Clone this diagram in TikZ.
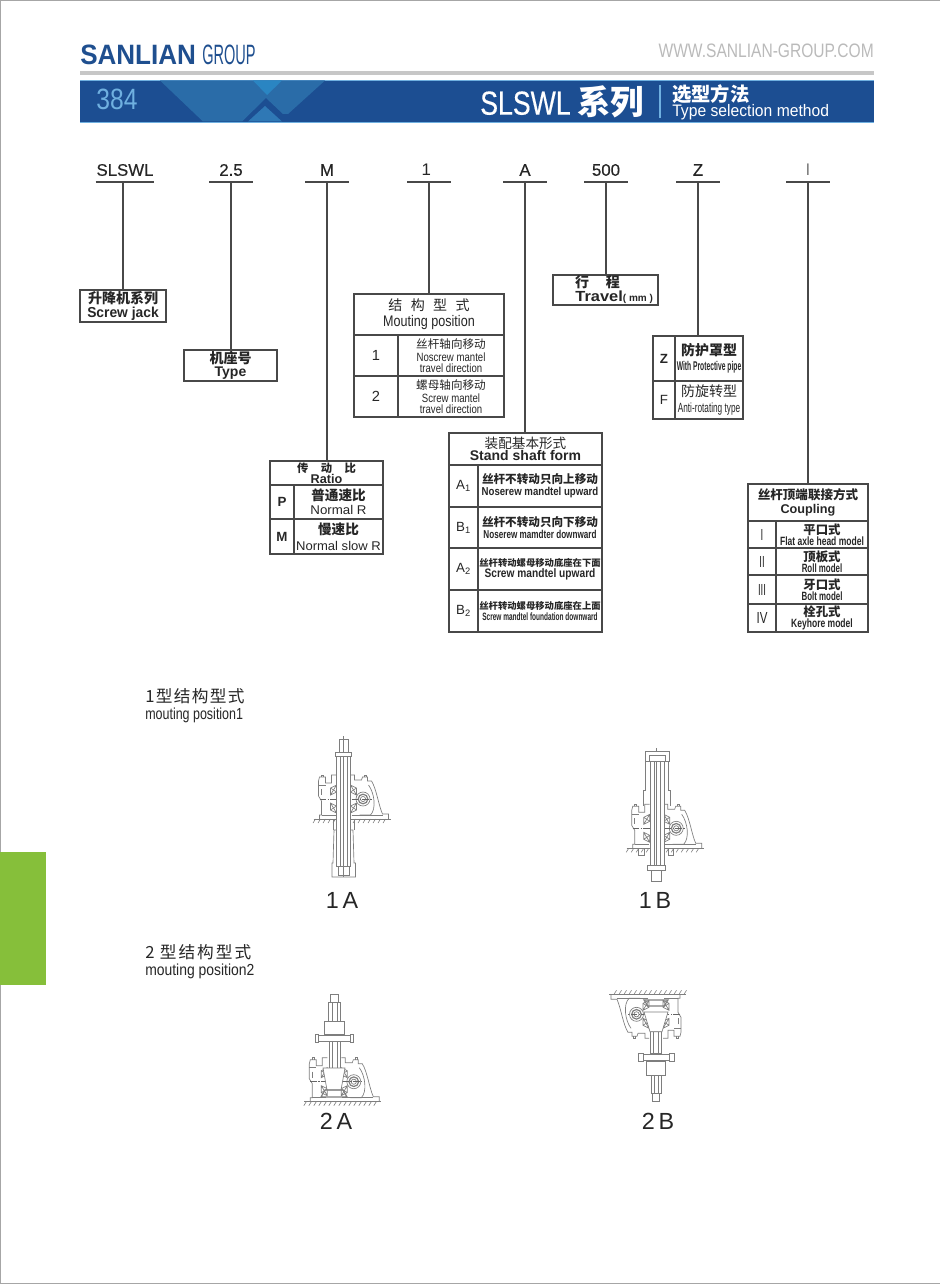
\documentclass[tikz,border=0pt]{standalone}
\usepackage{fontspec}
\setmainfont{Liberation Sans}
\newfontfamily\cjk{Noto Sans CJK SC}
\newfontfamily\midweight[FakeBold=0.35]{Liberation Sans}
\usetikzlibrary{positioning}
\lineskiplimit=-100pt

\definecolor{bandblue}{HTML}{1C4E92}
\definecolor{bandmid}{HTML}{2A6CA8}
\definecolor{bandlight}{HTML}{2A85C2}
\definecolor{bandlow}{HTML}{2F78B5}
\definecolor{pageblue}{HTML}{6FB0E0}
\definecolor{logoblue}{HTML}{1F4F8F}
\definecolor{lineink}{HTML}{484848}
\definecolor{partink}{HTML}{7E7E7E}
\definecolor{tabgreen}{HTML}{86BF3A}

% text helpers: size in pt, then squeeze factor where needed
\newcommand{\zh}[2]{{\cjk\fontsize{#1}{#1}\selectfont #2}}
\newcommand{\zhb}[2]{{\cjk\bfseries\fontsize{#1}{#1}\selectfont #2}}
\newcommand{\en}[3]{\scalebox{#2}[1]{\fontsize{#1}{#1}\selectfont #3}}
\newcommand{\enb}[3]{\scalebox{#2}[1]{\bfseries\fontsize{#1}{#1}\selectfont #3}}
\newcommand{\codetext}[1]{{\midweight\fontsize{12.6}{13}\selectfont #1}}

% one table cell, corners given as x0 y0 x1 y1, snapped to whole pixels
\newcommand{\tabcell}[6]{%
	\node[cellbox,minimum width={(round(#4)-round(#2))*0.75pt},minimum height={(round(#5)-round(#3))*0.75pt}] (#1)
		at ({(round(#2)+round(#4))/2},{(round(#3)+round(#5))/2}) {#6};}

% code letter with its rule, and the line down to its box
\newcommand{\codeline}[3]{%
	\draw[rule] (#1.south west) -- (#1.south east);
	\draw[rule] (#1.south) -- (#1.south |- #2.#3);}

\tikzset{
	rule/.style={draw=lineink,line width=1.2pt},
	cellbox/.style={draw=lineink,line width=1.2pt,inner sep=0pt,outer sep=0pt,align=center,text=black!85,font=\fontsize{9}{12}\selectfont},
	codelabel/.style={inner sep=0pt,outer sep=0pt,minimum width=33pt,minimum height=18pt,text=black!85},
	figlabel/.style={inner sep=0pt,text=black!85,font=\fontsize{17.5}{18}\selectfont},
	sectlabel/.style={inner sep=0pt,anchor=west,text=black!85},
	part/.style={draw=partink,line width=0.5pt},
	axisline/.style={draw=partink!80!black,line width=0.4pt,dash pattern=on 5pt off 1pt on 1pt off 1pt},
	gearbox/.pic={
		% ground and hatching
		\draw[part,line width=0.7pt] (-30,0) -- (47,0);
		\foreach \hx in {-28,-23,...,44}
			\draw[part,line width=0.45pt] (\hx,0) -- ++(-2.5,4);
		% housing, left side
		\draw[part] (-24,0) -- (-24,-4) -- (-22,-4) -- (-22,-18) -- (-25,-23) -- (-25,-38) -- (-24,-42) -- (-18,-42) -- (-18,-36) -- (-12,-36) -- (-12,-44) -- (-7,-44);
		\draw[part] (-25,-34) -- (-18,-34) (-22,-30) -- (-22,-24) (-20,-42) -- (-20,-44) -- (-22,-44) -- (-22,-42);
		% housing, right side with the worm arm
		\draw[part] (7,-44) -- (11,-44) -- (11,-39) -- (18,-39) -- (19,-42) -- (24,-42) -- (24,-38) -- (28,-38) .. controls (33,-30) and (35,-14) .. (39,-5) -- (45,-5) -- (45,0);
		\draw[part] (21,-42) -- (21,-44) -- (23,-44) -- (23,-42);
		\draw[part] (25,-34) .. controls (31,-26) and (33,-10) .. (27,-4) -- (16,-4);
		\draw[part] (-22,-4) -- (-8,-4) (8,-4) -- (39,-4);
		% worm
		\draw[part,fill=white] (19.5,-20) circle (7);
		\draw[part,line width=0.9pt] (19.5,-20) circle (4.8);
		\draw[part] (19.5,-20) circle (2.6);
		% tapered bearings
		\foreach \bs in {-1,1} {
			\draw[part,xscale=\bs] (7,-34) -- (13,-31) -- (13,-24) -- (7,-27) -- cycle (7,-34) -- (13,-24) (13,-31) -- (7,-27);
			\draw[part,xscale=\bs] (7,-6) -- (13,-9) -- (13,-16) -- (7,-13) -- cycle (7,-6) -- (13,-16) (13,-9) -- (7,-13);
		}
		\draw[axisline] (-24,-20) -- (28,-20);
	}
}

\begin{document}
\begin{tikzpicture}[x=0.75pt,y=-0.75pt]
	\useasboundingbox (0,0) rectangle (940,1284);
	\draw[draw=black!35,line width=0.8pt] (940,0.5) -- (0.5,0.5) -- (0.5,1283.5) -- (940,1283.5);
	\fill[tabgreen] (0,852) rectangle (46,985);

	% page head
	\node[inner sep=0pt,anchor=west,text=logoblue] (logoname) at (80,54.5) {\enb{21}{0.93}{SANLIAN}};
	\node[inner sep=0pt,anchor=west,text=logoblue] (logogroup) at (202,54.5) {\en{21}{0.52}{GROUP}};
	\node[inner sep=0pt,anchor=east,text=black!27] (website) at (874,51) {\en{14.6}{0.8}{WWW.SANLIAN-GROUP.COM}};
	\fill[black!22] (80,71) rectangle (874,75);
	\fill[bandblue] (80,80) rectangle (874,122);
	\draw[pageblue,line width=0.6pt] (80,80) -- (874,80) (80,122) -- (874,122);
	\fill[bandmid] (160,80.5) -- (203,121.5) -- (242,121.5) -- (266,98) -- (283,114) -- (288,114) -- (325,80.5) -- cycle;
	\fill[bandlight] (253,80.5) -- (282,80.5) -- (267,95) -- cycle;
	\fill[bandlow] (248,121.5) -- (282,121.5) -- (265,106) -- cycle;
	\node[inner sep=0pt,text=pageblue] (pageno) at (117,99) {\en{22}{0.84}{384}};
	\node[inner sep=0pt,anchor=west,text=white] (seriesname) at (480,102) {\scalebox{0.8}[1]{\midweight\fontsize{25}{25}\selectfont SLSWL}\hspace{5pt}\zhb{25}{系列}};
	\draw[pageblue,line width=0.8pt] (660,85) -- (660,118);
	\node[inner sep=0pt,anchor=west,text=white] (methodzh) at (672,94.5) {\zhb{14.5}{选型方法}};
	\node[inner sep=0pt,anchor=west,text=white] (methoden) at (672,112) {\en{12.5}{0.94}{Type selection method}};

	% code letters
	\node[codelabel,minimum width=44pt] (codeseries) at (125,170) {\codetext{SLSWL}};
	\node[codelabel] (codesize) at (231,170) {\codetext{2.5}};
	\node[codelabel] (coderatio) at (327,170) {\codetext{M}};
	\node[codelabel] (codemount) at (429,170) {\hspace*{-4pt}\en{12.6}{1}{1}};
	\node[codelabel] (codeform) at (525,170) {\codetext{A}};
	\node[codelabel] (codetravel) at (606,170) {\codetext{500}};
	\node[codelabel] (codepipe) at (698,170) {\codetext{Z}};
	\node[codelabel] (codecoupling) at (808,170) {\en{12.6}{0.6}{I}};

	% single boxes
	\tabcell{seriesbox}{80}{290}{166}{322}{\zhb{10.5}{升降机系列}\\[-1.5pt]\enb{10.8}{0.96}{Screw jack}}
	\tabcell{typebox}{184}{350}{277}{381}{\zhb{10.5}{机座号}\\[-2.25pt]\enb{10.5}{1}{Type}}
	\tabcell{travelbox}{553.3}{274.7}{658.3}{305.3}{\hspace*{-12pt}\zhb{10.5}{行\hspace{1.2em}程}\\[-1.5pt]\hspace*{13pt}\enb{11}{1.12}{Travel}\enb{7.5}{1}{( mm )}}

	% ratio table
	\tabcell{ratiohead}{270.3}{460.7}{382.7}{485}{\zhb{8.5}{传\hspace{1.1em}动\hspace{1.1em}比}\\[-3.8pt]\enb{9.5}{1}{Ratio}}
	\tabcell{ratiokeyp}{270.3}{485}{294.3}{519.3}{\enb{10}{1}{P}}
	\tabcell{ratiotextp}{294.3}{485}{382.7}{519.3}{\zhb{10.2}{普通速比}\\[-1.5pt]\en{9.5}{1.05}{Normal R}}
	\tabcell{ratiokeym}{270.3}{519.3}{294.3}{554}{\enb{10}{1}{M}}
	\tabcell{ratiotextm}{294.3}{519.3}{382.7}{554}{\zhb{10.2}{慢速比}\\\en{9.5}{1.03}{Normal slow R}}

	% mounting table
	\tabcell{mounthead}{354}{294}{504.3}{335}{\zh{10.5}{结\hspace{0.6em}构\hspace{0.6em}型\hspace{0.6em}式}\\\en{11.5}{0.82}{Mouting position}}
	\tabcell{mountkeya}{354}{335}{398.3}{376}{\en{11}{1}{1}}
	\tabcell{mounttexta}{398.3}{335}{504.3}{376}{\zh{8.7}{丝杆轴向移动}\\[-2.25pt]\en{9}{0.8}{Noscrew mantel}\\[-3.75pt]\en{9}{0.8}{travel direction}}
	\tabcell{mountkeyb}{354}{376}{398.3}{417.3}{\en{11}{1}{2}}
	\tabcell{mounttextb}{398.3}{376}{504.3}{417.3}{\zh{8.7}{螺母轴向移动}\\[-2.25pt]\en{9}{0.8}{Screw mantel}\\[-3.75pt]\en{9}{0.8}{travel direction}}

	% shaft form table
	\tabcell{formhead}{448.7}{433}{602}{465}{\zh{10.2}{装配基本形式}\\[-3pt]\enb{10.5}{1}{Stand shaft form}}
	\tabcell{formkeya}{448.7}{465}{478.3}{506.7}{\en{10}{1}{A\textsubscript{1}}}
	\tabcell{formtexta}{478.3}{465}{602}{506.7}{\zhb{8.7}{丝杆不转动只向上移动}\\[-3pt]\enb{8.6}{0.84}{Noserew mandtel upward}}
	\tabcell{formkeyb}{448.7}{506.7}{478.3}{548.3}{\en{10}{1}{B\textsubscript{1}}}
	\tabcell{formtextb}{478.3}{506.7}{602}{548.3}{\zhb{8.7}{丝杆不转动只向下移动}\\[-3pt]\enb{8.6}{0.71}{Noserew mamdter downward}}
	\tabcell{formkeyc}{448.7}{548.3}{478.3}{590}{\en{10}{1}{A\textsubscript{2}}}
	\tabcell{formtextc}{478.3}{548.3}{602}{590}{\zhb{7}{丝杆转动螺母移动底座在下面}\\[-3.75pt]\enb{9.2}{0.83}{Screw mandtel upward}}
	\tabcell{formkeyd}{448.7}{590}{478.3}{632}{\en{10}{1}{B\textsubscript{2}}}
	\tabcell{formtextd}{478.3}{590}{602}{632}{\zhb{7}{丝杆转动螺母移动底座在上面}\\[-3.75pt]\enb{8}{0.61}{Screw mandtel foundation downward}}

	% pipe table
	\tabcell{pipekeyz}{653.3}{336.3}{675}{380.7}{\enb{10}{1}{Z}}
	\tabcell{pipetextz}{675}{336.3}{742.7}{380.7}{\zhb{10.5}{防护罩型}\\[-0.75pt]\enb{9.5}{0.53}{With Protective pipe}}
	\tabcell{pipekeyf}{653.3}{380.7}{675}{419}{\en{10}{1}{F}}
	\tabcell{pipetextf}{675}{380.7}{742.7}{419}{\zh{10.5}{防旋转型}\\\en{10}{0.62}{Anti-rotating type}}

	% coupling table
	\tabcell{couphead}{748}{483.7}{867.7}{521}{\zhb{9.4}{丝杆顶端联接方式}\\[-1.5pt]\enb{9.5}{1}{Coupling}}
	\tabcell{coupkeya}{748}{521}{775.7}{548.3}{\en{12}{0.6}{I}}
	\tabcell{couptexta}{775.7}{521}{867.7}{548.3}{\zhb{9.3}{平口式}\\[-3.75pt]\enb{9}{0.71}{Flat axle head model}}
	\tabcell{coupkeyb}{748}{548.3}{775.7}{575}{\en{12}{0.6}{II}}
	\tabcell{couptextb}{775.7}{548.3}{867.7}{575}{\zhb{9.3}{顶板式}\\[-3.75pt]\enb{9}{0.66}{Roll model}}
	\tabcell{coupkeyc}{748}{575}{775.7}{603.7}{\en{12}{0.6}{III}}
	\tabcell{couptextc}{775.7}{575}{867.7}{603.7}{\zhb{9.3}{牙口式}\\[-3.75pt]\enb{9}{0.66}{Bolt model}}
	\tabcell{coupkeyd}{748}{603.7}{775.7}{632}{\en{12}{0.72}{IV}}
	\tabcell{couptextd}{775.7}{603.7}{867.7}{632}{\zhb{9.3}{栓孔式}\\[-3.75pt]\enb{9}{0.71}{Keyhore model}}

	\draw[rule] (codeseries.south west) -- (codeseries.south east);
	\draw[rule] (seriesbox.north |- codeseries.south) -- (seriesbox.north);
	\codeline{codesize}{typebox}{north}
	\codeline{coderatio}{ratiohead}{north}
	\codeline{codemount}{mounthead}{north}
	\codeline{codeform}{formhead}{north}
	\codeline{codetravel}{travelbox}{north}
	\codeline{codepipe}{pipetextz}{north}
	\codeline{codecoupling}{couphead}{north}

	% section titles
	\node[sectlabel] (sectone) at (145,696) {\zh{12.5}{1\kern1pt 型\kern1pt 结\kern1pt 构\kern1pt 型\kern1pt 式}};
	\node[sectlabel] (sectoneen) at (145,715) {\en{12}{0.78}{mouting position1}};
	\node[sectlabel] (secttwo) at (145,952) {\zh{12.5}{2\kern4pt 型\kern1.5pt 结\kern1.5pt 构\kern1.5pt 型\kern1.5pt 式}};
	\node[sectlabel] (secttwoen) at (145,971) {\en{12}{0.87}{mouting position2}};

	% 1A
	\draw[part,fill=white] (339,739) rectangle (348,752);
	\draw[part] (343.5,736) -- (343.5,752);
	\draw[part,fill=white] (333,863) -- (334,830) -- (353,830) -- (354,863) -- (355.5,863) -- (355.5,877) -- (332,877) -- (332,863) -- cycle;
	\pic at (343.5,819) {gearbox};
	\draw[part,fill=white] (336.7,756) rectangle (350,866);
	\draw[part] (340,756) -- (340,866) (347,756) -- (347,866) (343.5,756) -- (343.5,877);
	\draw[part,fill=white] (335.7,752) rectangle (351,756);
	\draw[part] (338,866) -- (338,875) -- (349,875) -- (349,866) (333,819) -- (333,830) (354,819) -- (354,830);
	\node[figlabel] (labela) at (342,900) {1\,A};

	% 1B
	\pic at (656.7,848.3) {gearbox};
	\draw[part] (645.7,761.7) -- (645.7,790) -- (643.5,790) -- (643.5,806) (668.5,761.7) -- (668.5,790) -- (670,790) -- (670,806);
	\draw[part,fill=white] (650,761.7) rectangle (664,865);
	\draw[part] (654,761.7) -- (654,865) (660,761.7) -- (660,865) (656.8,748) -- (656.8,881);
	\draw[part,fill=white] (645.7,751.7) rectangle (669,761.7);
	\draw[part] (649,755) -- (665,755) -- (665,761.7) (649,755) -- (649,761.7);
	\draw[part,fill=white] (647.7,865) rectangle (665.7,870.7);
	\draw[part,fill=white] (651.7,870.7) rectangle (661,881.7);
	\draw[part] (638,848.3) -- (638,855) -- (644,855) -- (644,848.3) (668,848.3) -- (668,855) -- (673,855) -- (673,848.3);
	\node[figlabel] (labelb) at (655,900) {1\,B};

	% 2A
	\pic at (334.3,1101.7) {gearbox};
	\draw[part,fill=white] (330.7,994.3) rectangle (338.3,1002.3);
	\draw[part,fill=white] (328.3,1002.3) rectangle (340,1021);
	\draw[part,fill=white] (324.3,1021) rectangle (344.3,1034.3);
	\draw[part,fill=white] (329.3,1041.7) rectangle (340,1068);
	\draw[part] (332,1002.3) -- (332,1021) (337,1002.3) -- (337,1021) (332,1041.7) -- (332,1068) (337,1041.7) -- (337,1068);
	\draw[part,fill=white] (318,1035.7) rectangle (350,1041.7);
	\draw[part,fill=white] (315,1034.5) rectangle (318.5,1042.5) (350,1034.5) rectangle (353.5,1042.5);
	\draw[part,fill=white] (323,1068) -- (345,1068) -- (341,1090) -- (327,1090) -- cycle;
	\draw[part,line width=0.9pt] (321,1097) -- (325,1090) -- (343,1090) -- (347,1097) -- cycle;
	\node[figlabel] (labelc) at (336,1121) {2\,A};

	% 2B
	\pic[rotate=180] at (656,994.3) {gearbox};
	\draw[part,fill=white] (650,1031.7) rectangle (661.7,1053);
	\draw[part] (653,1031.7) -- (653,1053) (658.5,1031.7) -- (658.5,1053);
	\draw[part,fill=white] (643,1054) rectangle (669,1060);
	\draw[part,fill=white] (638,1053) rectangle (643,1061) (669,1053) rectangle (674,1061);
	\draw[part,fill=white] (646,1061.7) rectangle (665.7,1075);
	\draw[part,fill=white] (651,1075) rectangle (661,1093.3);
	\draw[part] (654,1075) -- (654,1093.3) (658,1075) -- (658,1093.3);
	\draw[part,fill=white] (652.3,1093.3) rectangle (659.3,1101);
	\draw[part,fill=white] (644,1012) -- (668,1012) -- (662,1031.7) -- (650,1031.7) -- cycle;
	\draw[part,line width=0.9pt] (644,1000) -- (668,1000) -- (664,1006) -- (648,1006) -- cycle;
	\node[figlabel] (labeld) at (658,1121) {2\,B};
\end{tikzpicture}
\end{document}
